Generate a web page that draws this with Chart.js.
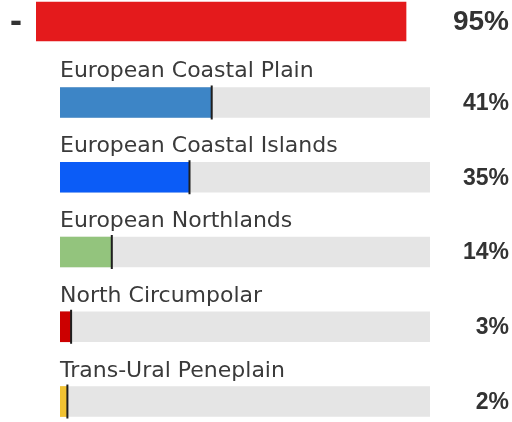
<!DOCTYPE html>
<html>
<head>
<meta charset="utf-8">
<script src="https://cdn.jsdelivr.net/npm/chart.js@4/dist/chart.umd.min.js"></script>
<style>
  html, body { margin: 0; padding: 0; background: #ffffff; overflow: hidden; width: 512px; height: 422px; }
  #top { position: absolute; left: 0; top: 0; }
  #rows { position: absolute; left: 0; top: 50px; }
</style>
</head>
<body>
<canvas id="top" width="512" height="44"></canvas>
<canvas id="rows" width="512" height="390"></canvas>
<script>
// ---- data ----
const headerLabels = ["-"];
const headerValues = [95];
const headerColors = ["#e41a1c"];

const categories = [
  "European Coastal Plain",
  "European Coastal Islands",
  "European Northlands",
  "North Circumpolar",
  "Trans-Ural Peneplain"
];
const values = [41, 35, 14, 3, 2];
const barColors = ["#3d85c6", "#0b5cf7", "#93c47d", "#cc0000", "#f1c232"];
const trackValues = [100, 100, 100, 100, 100];
const valueLabels = values.map(v => v + "%");

// ---- header chart ----
const headerPlugin = {
  id: "headerText",
  afterDatasetsDraw(chart) {
    const ctx = chart.ctx;
    const meta = chart.getDatasetMeta(0);
    ctx.save();
    meta.data.forEach((bar, i) => {
      ctx.fillStyle = "#333333";
      ctx.font = "bold 30px 'DejaVu Sans'";
      ctx.textAlign = "center";
      ctx.textBaseline = "middle";
      ctx.fillText(headerLabels[i], 16, bar.y + 3);
      ctx.font = "bold 28px 'Liberation Sans'";
      ctx.textAlign = "right";
      ctx.fillText(headerValues[i] + "%", 509, bar.y + 1);
    });
    ctx.restore();
  }
};

new Chart(document.getElementById("top"), {
  type: "bar",
  data: {
    labels: headerLabels,
    datasets: [{ data: headerValues, backgroundColor: headerColors, borderWidth: 0, barThickness: 39 }]
  },
  options: {
    indexAxis: "y",
    responsive: false,
    animation: false,
    devicePixelRatio: 1,
    layout: { padding: { left: 36, right: 86.5, top: 0, bottom: 1 } },
    scales: {
      x: { display: false, min: 0, max: 100 },
      y: { display: false }
    },
    plugins: { legend: { display: false }, tooltip: { enabled: false } }
  },
  plugins: [headerPlugin]
});

// ---- rows chart ----
const rowPlugin = {
  id: "rowText",
  afterDatasetsDraw(chart) {
    const ctx = chart.ctx;
    const meta = chart.getDatasetMeta(0);
    const left = chart.chartArea.left;
    ctx.save();
    meta.data.forEach((bar, i) => {
      const h = bar.height;
      const top = bar.y - h / 2;
      // end marker
      ctx.fillStyle = "#1f1f1f";
      ctx.fillRect(bar.x - 1, top - 2, 2, h + 4);
      // category label
      ctx.fillStyle = "#3a3a3a";
      ctx.font = "22px 'DejaVu Sans'";
      ctx.textAlign = "left";
      ctx.textBaseline = "alphabetic";
      ctx.fillText(categories[i], left, top - 10);
      // value label
      ctx.fillStyle = "#333333";
      ctx.font = "bold 23px 'Liberation Sans'";
      ctx.textAlign = "right";
      ctx.textBaseline = "middle";
      ctx.fillText(valueLabels[i], 509, bar.y + 1);
    });
    ctx.restore();
  }
};

new Chart(document.getElementById("rows"), {
  type: "bar",
  data: {
    labels: categories,
    datasets: [
      { data: values, backgroundColor: barColors, borderWidth: 0, barThickness: 30, grouped: false, order: 1 },
      { data: trackValues, backgroundColor: "#e5e5e5", borderWidth: 0, barThickness: 30, grouped: false, order: 2 }
    ]
  },
  options: {
    indexAxis: "y",
    responsive: false,
    animation: false,
    devicePixelRatio: 1,
    layout: { padding: { left: 60, right: 82, top: 15.1, bottom: 1.1 } },
    scales: {
      x: { display: false, min: 0, max: 100 },
      y: { display: false }
    },
    plugins: { legend: { display: false }, tooltip: { enabled: false } }
  },
  plugins: [rowPlugin]
});
</script>
</body>
</html>
